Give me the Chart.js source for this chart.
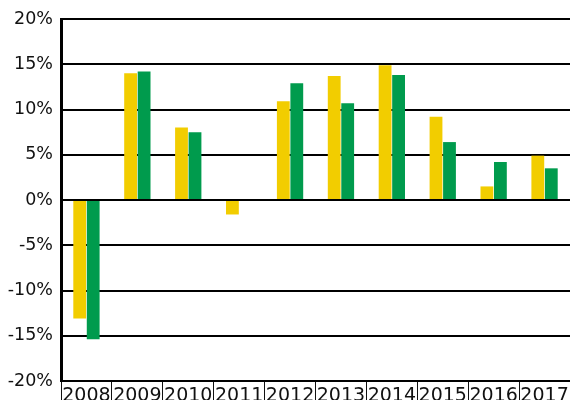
<!DOCTYPE html>
<html>
<head>
<meta charset="utf-8">
<script src="https://cdn.jsdelivr.net/npm/chart.js@4/dist/chart.umd.min.js"></script>
<style>
  html, body { margin: 0; padding: 0; background: #fff; }
  #wrap { width: 570px; height: 400px; }
</style>
</head>
<body>
<div id="wrap"><canvas id="chart"></canvas></div>
<script>
// yearly returns, percent
const years = ['2008', '2009', '2010', '2011', '2012', '2013', '2014', '2015', '2016', '2017'];
const yellowSeries = [-13.1, 14.0, 8.0, -1.6, 10.9, 13.7, 14.9, 9.2, 1.5, 4.9];
const greenSeries = [-15.4, 14.2, 7.5, 0, 12.9, 10.7, 13.8, 6.4, 4.2, 3.5];
const yTicks = [-20, -15, -10, -5, 0, 5, 10, 15, 20];

const YELLOW = '#f2cd00';
const GREEN = '#009b4d';
const INK = '#111';

Chart.defaults.font.family = '"DejaVu Sans", sans-serif';
Chart.defaults.color = INK;

new Chart(document.getElementById('chart'), {
  type: 'bar',
  data: {
    labels: years,
    datasets: [
      { label: 'A', data: yellowSeries, backgroundColor: YELLOW },
      { label: 'B', data: greenSeries, backgroundColor: GREEN }
    ]
  },
  options: {
    responsive: true,
    maintainAspectRatio: false,
    animation: false,
    layout: { padding: { top: 19, left: 0, right: -3, bottom: 0 } },
    datasets: {
      bar: { categoryPercentage: 0.53, barPercentage: 0.95 }
    },
    scales: {
      x: {
        grid: {
          offset: true,
          drawOnChartArea: false,
          drawTicks: true,
          tickLength: 20,
          color: INK,
          lineWidth: 1
        },
        border: { display: true, color: '#000', width: 2 },
        ticks: {
          font: { size: 19 },
          padding: -16,
          color: INK,
          autoSkip: false,
          maxRotation: 0,
          minRotation: 0
        },
        afterFit: (scale) => { scale.height = 19; }
      },
      y: {
        min: -20,
        max: 20,
        afterBuildTicks: (scale) => { scale.ticks = yTicks.map(v => ({ value: v })); },
        grid: { color: '#000', lineWidth: 2, drawTicks: false },
        border: { display: true, color: '#000', width: 3 },
        ticks: {
          font: { size: 17.5 },
          padding: 8,
          color: INK,
          callback: (v) => v + '%'
        },
        afterFit: (scale) => { scale.width = 61; }
      }
    },
    plugins: {
      legend: { display: false },
      tooltip: { enabled: false }
    }
  }
});
</script>
</body>
</html>
